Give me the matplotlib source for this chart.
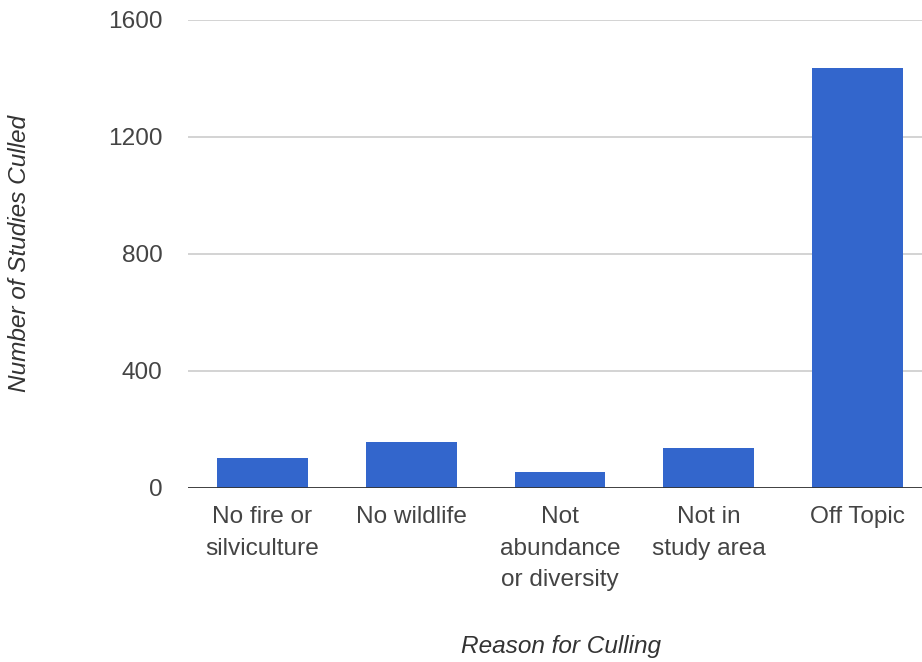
import matplotlib
matplotlib.use("Agg")
import matplotlib.pyplot as plt

categories = ["No fire or\nsilviculture", "No wildlife", "Not\nabundance\nor diversity", "Not in\nstudy area", "Off Topic"]
values = [100, 155, 52, 134, 1437]
yticks = [0, 400, 800, 1200, 1600]

plt.rcParams['font.family'] = ['Liberation Sans', 'DejaVu Sans']

fig = plt.figure(figsize=(9.22, 6.62), dpi=100)
ax = fig.add_axes([188/922, 1 - 487.5/662, (922 - 188)/922, (487.5 - 20)/662])

x = list(range(len(categories)))
ax.bar(x, values, width=0.61, color="#3366cc", zorder=3)
ax.set_xlim(-0.5, 4.5 - 10/149)
ax.set_ylim(0, 1600)
ax.set_yticks(yticks)
ax.set_yticklabels([str(v) for v in yticks])
ax.set_xticks(x)
ax.set_xticklabels(categories, linespacing=1.56, va="top")
ax.yaxis.grid(True, color="#cccccc", linewidth=1.2, zorder=0)
ax.axhline(0, color="#333333", linewidth=2, zorder=4)
for s in ax.spines.values():
    s.set_visible(False)
ax.tick_params(axis="both", length=0, labelsize=17.6, colors="#444444")
ax.tick_params(axis="y", pad=18.5)
ax.tick_params(axis="x", pad=13.5)

fig.text(20/922, 1 - 253/662, "Number of Studies Culled", rotation=90, ha="center", va="center",
         fontsize=17.6, style="italic", color="#333333")
fig.text(561/922, 1 - 647/662, "Reason for Culling", ha="center", va="center",
         fontsize=17.6, style="italic", color="#333333")

fig.savefig("out.png", dpi=100)
